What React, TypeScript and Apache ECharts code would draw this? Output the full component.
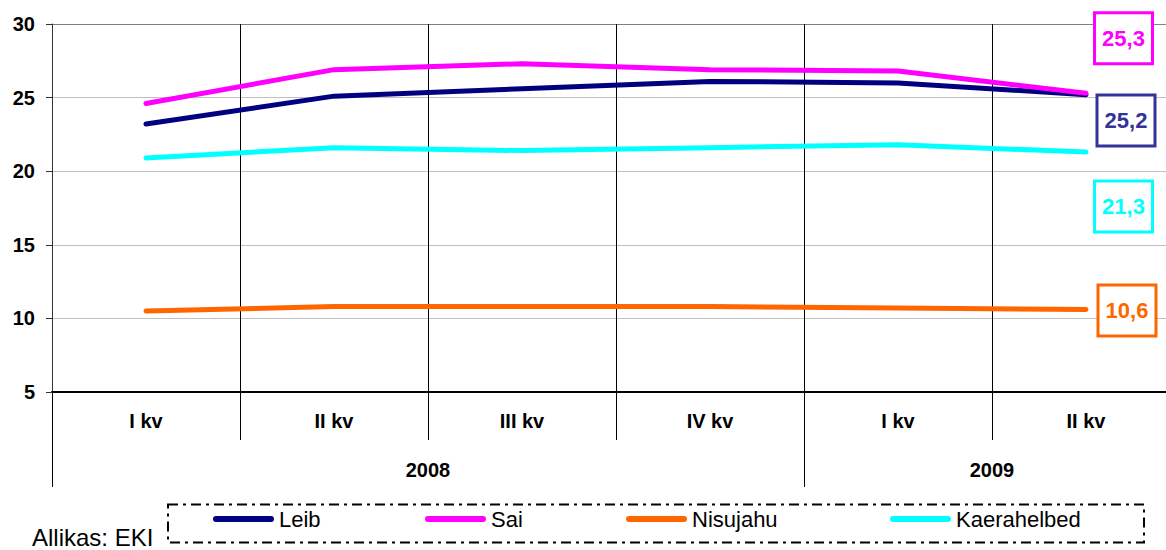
import React, { useEffect, useRef } from "react";
import * as echarts from "echarts";

const categories = ["I kv", "II kv", "III kv", "IV kv", "I kv", "II kv"];
const years = ["2008", "2009"];
const yearSpans = [4, 2];
const leib = [23.2, 25.1, 25.6, 26.1, 26.0, 25.2];
const sai = [24.6, 26.9, 27.3, 26.9, 26.8, 25.3];
const nisujahu = [10.5, 10.8, 10.8, 10.8, 10.7, 10.6];
const kaerahelbed = [20.9, 21.6, 21.4, 21.6, 21.8, 21.3];
const yTicks = [5, 10, 15, 20, 25, 30];
const sourceText = "Allikas: EKI";

const FONT = "'Liberation Sans', Arial, sans-serif";

export default function App() {
  const ref = useRef<HTMLDivElement>(null);
  useEffect(() => {
    if (!ref.current) return;
    const chart = echarts.init(ref.current, null, { renderer: "svg" });

    const seriesDefs = [
      { name: "Leib", data: leib, color: "#000080", labelColor: "#333399", box: { cx: 1126, cy: 120.5 }, legendLeft: 213 },
      { name: "Sai", data: sai, color: "#FF00FF", labelColor: "#FF00FF", box: { cx: 1123.5, cy: 38.3 }, legendLeft: 425 },
      { name: "Nisujahu", data: nisujahu, color: "#FF6600", labelColor: "#FF6600", box: { cx: 1127, cy: 310.5 }, legendLeft: 626 },
      { name: "Kaerahelbed", data: kaerahelbed, color: "#00FFFF", labelColor: "#00FFFF", box: { cx: 1123.5, cy: 206.5 }, legendLeft: 890 },
    ];

    // year-level axis positions from spans
    const yearBounds: number[] = [0];
    yearSpans.forEach((s) => yearBounds.push(yearBounds[yearBounds.length - 1] + s));
    const yearCenters = years.map((_, i) => (yearBounds[i] + yearBounds[i + 1]) / 2);

    const fmt = (v: number) => v.toFixed(1).replace(".", ",");
    const boxW = 58;
    const boxH = 51;

    const labelBoxes: any[] = [];
    seriesDefs.forEach((s) => {
      const last = s.data[s.data.length - 1];
      labelBoxes.push({
        type: "rect",
        z: 20,
        shape: { x: s.box.cx - boxW / 2, y: s.box.cy - boxH / 2, width: boxW, height: boxH },
        style: { fill: "#ffffff", stroke: s.labelColor, lineWidth: 3 },
      });
      labelBoxes.push({
        type: "text",
        z: 21,
        x: s.box.cx,
        y: s.box.cy,
        style: {
          text: fmt(last),
          fill: s.labelColor,
          font: `bold 22px ${FONT}`,
          align: "center",
          verticalAlign: "middle",
        },
      });
    });

    const pill = "path://M3,0 L58,0 A3,3 0 0 1 58,6 L3,6 A3,3 0 0 1 3,0 Z";

    const option: any = {
      animation: false,
      backgroundColor: "#ffffff",
      grid: { left: 52, top: 24, width: 1128, height: 368, containLabel: false, outerBoundsMode: "none" },
      xAxis: [
        {
          type: "category",
          data: categories,
          boundaryGap: true,
          position: "bottom",
          axisLine: { show: true, lineStyle: { color: "#000000", width: 2 } },
          axisTick: { show: true, interval: 0, length: 48, lineStyle: { color: "#000000", width: 1 } },
          splitLine: { show: true, interval: 0, lineStyle: { color: "#000000", width: 1 } },
          axisLabel: {
            interval: 0,
            margin: 19,
            color: "#000000",
            fontFamily: FONT,
            fontWeight: "bold",
            fontSize: 20,
          },
        },
        {
          type: "value",
          min: 0,
          max: categories.length,
          position: "bottom",
          axisLine: { show: false },
          splitLine: { show: false },
          axisTick: {
            show: true,
            customValues: yearBounds,
            length: 95,
            lineStyle: { color: "#000000", width: 1 },
          },
          axisLabel: {
            customValues: yearCenters,
            formatter: (v: number) => {
              const i = yearCenters.indexOf(v);
              return i >= 0 ? years[i] : "";
            },
            margin: 68,
            color: "#000000",
            fontFamily: FONT,
            fontWeight: "bold",
            fontSize: 20,
          },
        },
      ],
      yAxis: {
        type: "value",
        min: yTicks[0],
        max: yTicks[yTicks.length - 1],
        interval: 5,
        axisLine: { show: true, lineStyle: { color: "#333333", width: 1 } },
        axisTick: { show: true, length: 6, lineStyle: { color: "#333333" } },
        splitLine: {
          show: true,
          lineStyle: { color: ["#c0c0c0", "#c0c0c0", "#c0c0c0", "#c0c0c0", "#c0c0c0", "#808080"], width: 1 },
        },
        axisLabel: {
          margin: 17,
          color: "#000000",
          fontFamily: FONT,
          fontWeight: "bold",
          fontSize: 20,
        },
      },
      legend: seriesDefs.map((s) => ({
        data: [s.name],
        left: s.legendLeft,
        top: 508,
        padding: 0,
        z: 30,
        icon: pill,
        itemWidth: 61,
        itemHeight: 6,
        itemGap: 0,
        itemTextGap: 9,
        selectedMode: false,
        itemStyle: { borderWidth: 0 },
        textStyle: { color: "#000000", fontFamily: FONT, fontSize: 22 },
      })),
      series: seriesDefs.map((s) => ({
        name: s.name,
        type: "line",
        xAxisIndex: 0,
        data: s.data,
        symbol: "none",
        color: s.color,
        lineStyle: { color: s.color, width: 5, cap: "round", join: "round" },
        emphasis: { disabled: true },
      })),
      graphic: [
        {
          type: "text",
          z: 4,
          x: 32,
          y: 537,
          style: {
            text: sourceText,
            fill: "#000000",
            font: `24px ${FONT}`,
            align: "left",
            verticalAlign: "middle",
          },
        },
        {
          type: "rect",
          z: 5,
          shape: { x: 168, y: 504.5, width: 976, height: 38 },
          style: { fill: "#ffffff", stroke: "#000000", lineWidth: 2, lineDash: [10, 5, 3, 5] },
        },
        ...labelBoxes,
      ],
    };

    chart.setOption(option);
    return () => chart.dispose();
  }, []);

  return (
    <div
      ref={ref}
      style={{ position: "fixed", left: 0, top: 0, width: 1166, height: 550, background: "#ffffff" }}
    />
  );
}
